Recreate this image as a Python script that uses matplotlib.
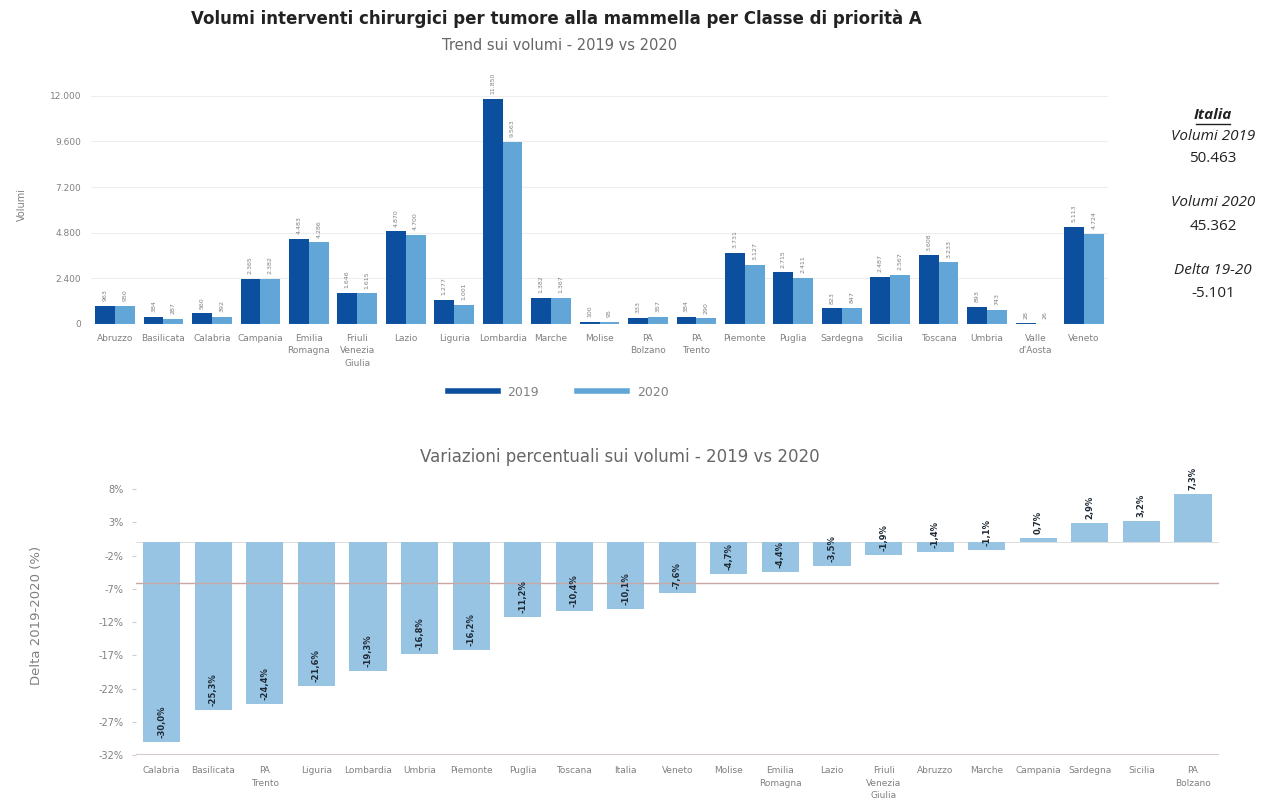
import matplotlib
matplotlib.use('Agg')
import matplotlib.pyplot as plt
from matplotlib.lines import Line2D
import numpy as np

# ---------------- data ----------------
regions = ["Abruzzo", "Basilicata", "Calabria", "Campania", "Emilia\nRomagna",
           "Friuli\nVenezia\nGiulia", "Lazio", "Liguria", "Lombardia", "Marche",
           "Molise", "PA\nBolzano", "PA\nTrento", "Piemonte", "Puglia", "Sardegna",
           "Sicilia", "Toscana", "Umbria", "Valle\nd'Aosta", "Veneto"]
vol_2019 = [963, 384, 560, 2365, 4483, 1646, 4870, 1277, 11850, 1382,
            100, 333, 384, 3731, 2715, 823, 2487, 3608, 893, 28, 5113]
vol_2020 = [950, 287, 392, 2382, 4286, 1615, 4700, 1001, 9563, 1367,
            95, 357, 290, 3127, 2411, 847, 2567, 3233, 743, 26, 4724]

pct_regions = ["Calabria", "Basilicata", "PA\nTrento", "Liguria", "Lombardia", "Umbria",
               "Piemonte", "Puglia", "Toscana", "Italia", "Veneto", "Molise",
               "Emilia\nRomagna", "Lazio", "Friuli\nVenezia\nGiulia", "Abruzzo",
               "Marche", "Campania", "Sardegna", "Sicilia", "PA\nBolzano"]
pct_delta = [-30.0, -25.3, -24.4, -21.6, -19.3, -16.8, -16.2, -11.2, -10.4, -10.1,
             -7.6, -4.7, -4.4, -3.5, -1.9, -1.4, -1.1, 0.7, 2.9, 3.2, 7.3]
ref_line = -6.1

top_yticks = [0, 2400, 4800, 7200, 9600, 12000]
bottom_yticks = [8, 3, -2, -7, -12, -17, -22, -27, -32]

italia_2019 = 50463
italia_2020 = 45362
italia_delta = -5101

# ---------------- style ----------------
C19 = '#0b4f9e'
C20 = '#62a6d8'
CPCT = '#97c4e3'
GRAY = '#808080'
FONT = ['Liberation Sans Narrow', 'DejaVu Sans']


def it_num(v):
    s = f"{abs(v):,}".replace(",", ".")
    return ("-" if v < 0 else "") + s


fig = plt.figure(figsize=(12.61, 8.02), dpi=100)
W, H = 1261, 802


def ax_rect(x0, y_top, x1, y_bot):
    return [x0 / W, 1 - y_bot / H, (x1 - x0) / W, (y_bot - y_top) / H]

# ---------------- titles ----------------
fig.text(556 / W, 1 - 19 / H, "Volumi interventi chirurgici per tumore alla mammella per Classe di priorità A",
         ha='center', va='center', fontsize=12, fontweight='bold', color='#222222', family=FONT)
fig.text(560 / W, 1 - 45 / H, "Trend sui volumi - 2019 vs 2020", ha='center', va='center',
         fontsize=10.5, color='#666666', family=FONT)

# ---------------- top chart ----------------
ax1 = fig.add_axes(ax_rect(90.8, 84.3, 1108.2, 324))
x = np.arange(len(regions))
bw = 0.41
b1 = ax1.bar(x - bw / 2, vol_2019, bw, color=C19, zorder=3)
b2 = ax1.bar(x + bw / 2, vol_2020, bw, color=C20, zorder=3)
ax1.set_xlim(-0.5, len(regions) - 0.5)
ax1.set_ylim(0, 12600)
ax1.set_yticks(top_yticks)
ax1.set_yticklabels([it_num(v) for v in top_yticks], fontsize=6.5, color=GRAY, family=FONT)
ax1.set_xticks(x)
ax1.set_xticklabels(regions, fontsize=6.5, color=GRAY, family=FONT, linespacing=1.5)
ax1.tick_params(axis='both', length=0, pad=7)
for v in top_yticks[1:]:
    ax1.axhline(v, color='#eeeeee', lw=0.8, zorder=0)
for s in ax1.spines.values():
    s.set_visible(False)
ax1.axhline(0, color='#d0d0d0', lw=0.8, zorder=4)
ax1.set_ylabel("Volumi", fontsize=7, color=GRAY, family=FONT, labelpad=16)
for bars, vals in ((b1, vol_2019), (b2, vol_2020)):
    for r, v in zip(bars, vals):
        ax1.text(r.get_x() + r.get_width() / 2, v + 250, it_num(v), rotation=90,
                 ha='center', va='bottom', fontsize=4.5, color=GRAY, family=FONT)

# legend
handles = [Line2D([], [], color=C19, lw=4), Line2D([], [], color=C20, lw=4)]
fig.legend(handles, ["2019", "2020"], loc='center', bbox_to_anchor=(558 / W, 1 - 392 / H),
           ncol=2, frameon=False, handlelength=4, columnspacing=3,
           labelcolor=GRAY, prop={'family': FONT, 'size': 9})

# right side summary
xr = 1213 / W
fig.text(xr, 1 - 115 / H, "Italia", ha='center', va='center', fontsize=11,
         fontweight='bold', style='italic', color='#222222', family=['Open Sans'])
fig.lines.append(Line2D([1196 / W, 1230 / W], [1 - 124 / H, 1 - 124 / H], color='#222222',
                        lw=1, transform=fig.transFigure))
lines_r = [("Volumi 2019", 136, True), (it_num(italia_2019), 158, False),
           ("Volumi 2020", 203, True), (it_num(italia_2020), 226, False),
           ("Delta 19-20", 270, True), (it_num(italia_delta), 294, False)]
for txt, yy, ital in lines_r:
    fig.text(xr, 1 - yy / H, txt, ha='center', va='center', fontsize=11,
             style='italic' if ital else 'normal', color='#222222', family=['Open Sans'])

# ---------------- bottom chart ----------------
fig.text(620 / W, 1 - 457 / H, "Variazioni percentuali sui volumi - 2019 vs 2020", ha='center',
         va='center', fontsize=12, color='#666666', family=FONT)
ax2 = fig.add_axes(ax_rect(135.9, 475.8, 1218.8, 755))
x2 = np.arange(len(pct_regions))
ax2.bar(x2, pct_delta, 0.72, color=CPCT, zorder=3)
ax2.set_xlim(-0.5, len(pct_regions) - 0.5)
ax2.set_ylim(-32, 10)
ax2.set_yticks(bottom_yticks)
ax2.set_yticklabels([f"{v}%" for v in bottom_yticks], fontsize=7, color=GRAY, family=FONT)
ax2.set_xticks(x2)
ax2.set_xticklabels(pct_regions, fontsize=6.5, color=GRAY, family=FONT, linespacing=1.5)
ax2.tick_params(axis='y', length=3, color='#cccccc', pad=6)
ax2.tick_params(axis='x', length=0, pad=8)
for s in ax2.spines.values():
    s.set_visible(False)
ax2.axhline(-32, color='#d8c8c8', lw=1.5, zorder=4)
ax2.axhline(ref_line, color='#c8a8a4', lw=1, zorder=4)
ax2.axhline(0, color='#d8d8d8', lw=0.6, zorder=2)
ax2.set_ylabel("Delta 2019-2020 (%)", fontsize=9.5, color=GRAY, family=FONT, labelpad=40)
for xi, v in zip(x2, pct_delta):
    lab = f"{v:.1f}%".replace('.', ',')
    ax2.text(xi, v + 0.6, lab, rotation=90, ha='center', va='bottom', fontsize=6,
             fontweight='bold', color='#1f2a36', family=FONT, zorder=5)

fig.savefig("out.png", dpi=100, facecolor='white')
